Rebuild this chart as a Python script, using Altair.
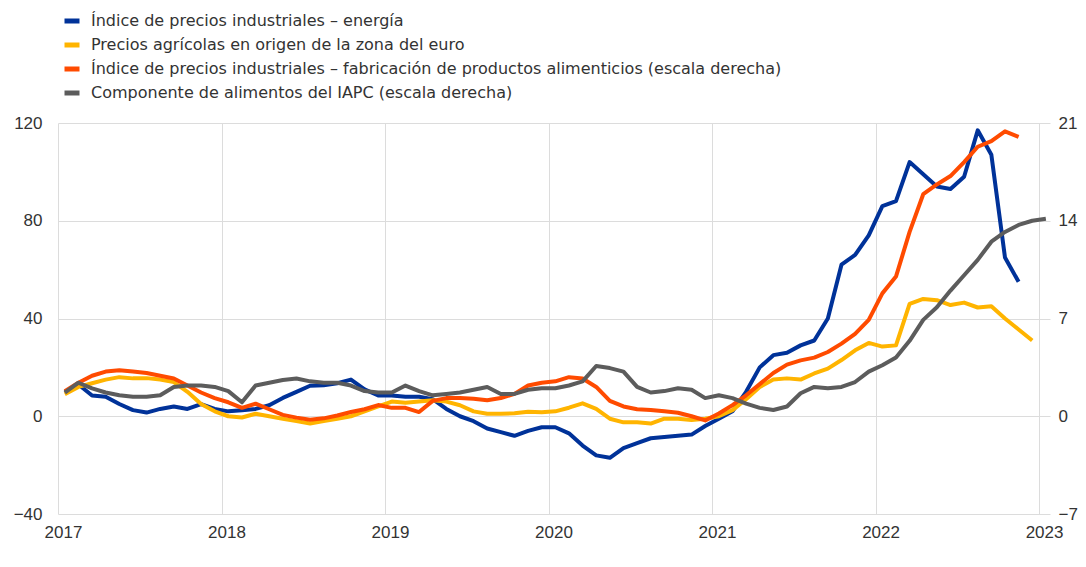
import altair as alt
import pandas as pd

# Monthly observations, Jan 2017 onwards
months = pd.date_range("2017-01-01", "2023-01-01", freq="MS")

# Left scale (%)
energy = [10, 13, 8.5, 8, 5, 2.5, 1.5, 3, 4, 3, 5, 3,
          2, 2.5, 3, 4.5, 7.5, 10, 12.5, 12.7, 13.5, 15, 11, 8.5,
          8.5, 8, 8, 7, 3, 0, -2, -5, -6.5, -8, -6, -4.5,
          -4.5, -7, -12, -16, -17, -13, -11, -9, -8.5, -8, -7.5, -4,
          -1, 2, 10, 20, 25, 26, 29, 31, 40, 62, 66, 74,
          86, 88, 104, 99, 94, 93, 98, 117, 107, 65, 55]
agri = [9, 12, 13.5, 15, 16, 15.5, 15.6, 15, 14, 10, 5, 2,
        0, -0.5, 1, 0, -1, -2, -3, -2, -1, 0, 2, 4,
        6, 5.5, 6, 6.5, 6, 4.5, 2, 1, 1, 1.2, 1.8, 1.6,
        2, 3.5, 5.3, 3, -1, -2.5, -2.5, -3, -1, -1, -1.5, -1,
        0, 2.5, 7, 12, 15, 15.5, 15, 17.5, 19.5, 23, 27, 30,
        28.5, 29, 46, 48, 47.5, 45.5, 46.5, 44.5, 45, 40, 35.5, 31]

# Right scale (%)
food_ppi = [1.8, 2.4, 2.9, 3.2, 3.3, 3.2, 3.1, 2.9, 2.7, 2.2, 1.7, 1.3,
            1.0, 0.6, 0.9, 0.5, 0.1, -0.1, -0.25, -0.15, 0.05, 0.3, 0.5, 0.8,
            0.6, 0.6, 0.3, 1.1, 1.3, 1.3, 1.25, 1.15, 1.3, 1.6, 2.2, 2.4,
            2.5, 2.8, 2.7, 2.1, 1.1, 0.7, 0.5, 0.45, 0.35, 0.25, 0.0, -0.3,
            0.2, 0.8, 1.5, 2.3, 3.1, 3.7, 4.0, 4.2, 4.6, 5.2, 5.9, 6.9,
            8.8, 10.0, 13.2, 15.9, 16.6, 17.2, 18.2, 19.3, 19.7, 20.4, 20.0]
hicp_food = [1.7, 2.4, 2.0, 1.7, 1.5, 1.4, 1.4, 1.5, 2.1, 2.2, 2.2, 2.1,
             1.8, 1.0, 2.2, 2.4, 2.6, 2.7, 2.5, 2.4, 2.4, 2.2, 1.8, 1.7,
             1.7, 2.2, 1.8, 1.5, 1.6, 1.7, 1.9, 2.1, 1.6, 1.6, 1.9, 2.0,
             2.0, 2.2, 2.5, 3.6, 3.45, 3.2, 2.1, 1.7, 1.8, 2.0, 1.9, 1.3,
             1.5, 1.3, 0.9, 0.6, 0.45, 0.7, 1.65, 2.1, 2.0, 2.1, 2.45, 3.2,
             3.65, 4.2, 5.4, 6.9, 7.8, 9.0, 10.1, 11.2, 12.5, 13.2, 13.7, 14.0,
             14.15]

names = ["Índice de precios industriales – energía",
         "Precios agrícolas en origen de la zona del euro",
         "Índice de precios industriales – fabricación de productos alimenticios (escala derecha)",
         "Componente de alimentos del IAPC (escala derecha)"]
colors = ["#003299", "#FFB400", "#FF4B00", "#5C5C5C"]
left_ticks = [-40, 0, 40, 80, 120]
right_ticks = [-7, 0, 7, 14, 21]
year_ticks = [2017, 2018, 2019, 2020, 2021, 2022, 2023]


def frame(vals, name):
    d = months[: len(vals)]
    return pd.DataFrame({"t": d.year + (d.month - 0.5) / 12.0, "v": vals, "s": name})


left_df = pd.concat([frame(energy, names[0]), frame(agri, names[1])])
right_df = pd.concat([frame(food_ppi, names[2]), frame(hicp_food, names[3])])

FONT = "Liberation Sans"
LEGEND_FONT = "DejaVu Sans"

x_enc = alt.X("t:Q",
              scale=alt.Scale(domain=[2017, 2023.067], nice=False, zero=False),
              axis=alt.Axis(values=year_ticks, format="d", title=None, grid=True,
                            ticks=False, domain=False, labelPadding=10,
                            labelOffset=5, labelFlush=False))

color_enc = alt.Color("s:N",
                      scale=alt.Scale(domain=names, range=colors),
                      legend=alt.Legend(orient="none", legendX=4, legendY=-112,
                                        title=None, symbolType="stroke",
                                        symbolStrokeWidth=5, symbolSize=225,
                                        labelFontSize=16, labelLimit=1000,
                                        rowPadding=4, labelOffset=9,
                                        direction="vertical", padding=0))

left = alt.Chart(left_df).mark_line(strokeWidth=4, strokeJoin="round").encode(
    x=x_enc,
    y=alt.Y("v:Q",
            scale=alt.Scale(domain=[-40, 120], nice=False, zero=False),
            axis=alt.Axis(values=left_ticks, title=None, grid=True, ticks=False,
                          domain=False, labelPadding=16, orient="left")),
    color=color_enc,
)

right = alt.Chart(right_df).mark_line(strokeWidth=4, strokeJoin="round").encode(
    x=x_enc,
    y=alt.Y("v:Q",
            scale=alt.Scale(domain=[-7, 21], nice=False, zero=False),
            axis=alt.Axis(values=right_ticks, title=None, grid=False, ticks=False,
                          domain=False, labelPadding=8, orient="right")),
    color=color_enc,
)

chart = alt.layer(left, right).resolve_scale(y="independent").properties(
    width=992, height=391,
    autosize=alt.AutoSizeParams(type="none"),
    padding={"left": 50, "top": 115, "right": 28, "bottom": 40},
).configure_view(stroke=None).configure_axis(
    gridColor="#dcdcdc", gridWidth=1, labelFont=FONT, labelFontSize=17,
    labelColor="#333333",
).configure_legend(labelFont=LEGEND_FONT, labelColor="#333333")

chart.save("out.html", embed_options={"renderer": "svg", "actions": False})
